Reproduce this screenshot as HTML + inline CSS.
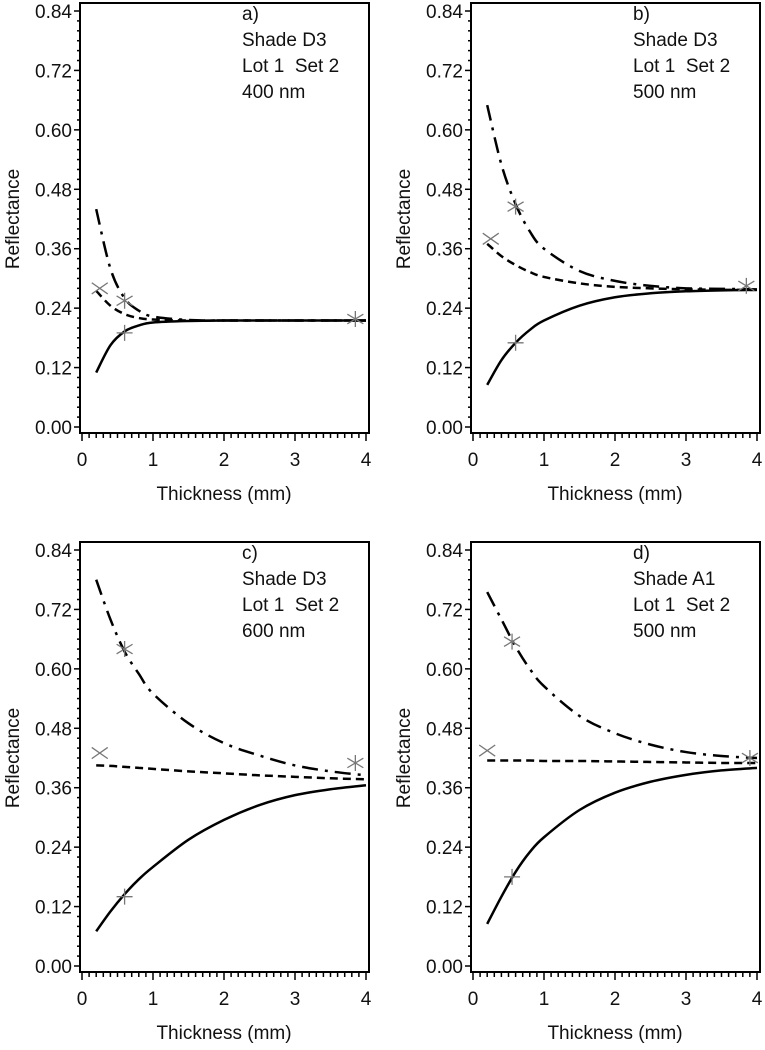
<!DOCTYPE html>
<html><head><meta charset="utf-8"><style>
body{margin:0;background:#fff;}
svg{display:block;font-family:"Liberation Sans",sans-serif;}
text{white-space:pre;}
</style></head><body>
<svg id="fig" width="765" height="1050" viewBox="0 0 765 1050"></svg>
<script>
const xSamples=[0.2,0.4,0.6,0.8,1,1.5,2,2.5,3,3.5,4];
const panelLabels=["a)","b)","c)","d)"];
const panelShades=["Shade D3","Shade D3","Shade D3","Shade A1"];
const panelWaves=["400 nm","500 nm","600 nm","500 nm"];
const solidA=[0.11,0.165,0.193,0.205,0.211,0.214,0.215,0.215,0.215,0.215,0.215];
const dashedA=[0.275,0.245,0.228,0.22,0.217,0.215,0.215,0.215,0.215,0.215,0.215];
const dashdotA=[0.44,0.32,0.26,0.235,0.223,0.216,0.215,0.215,0.215,0.215,0.215];
const solidB=[0.085,0.135,0.17,0.196,0.215,0.245,0.262,0.27,0.274,0.276,0.277];
const dashedB=[0.37,0.345,0.327,0.313,0.303,0.29,0.283,0.28,0.278,0.277,0.277];
const dashdotB=[0.65,0.53,0.45,0.395,0.36,0.315,0.295,0.285,0.28,0.279,0.278];
const solidC=[0.07,0.11,0.145,0.175,0.2,0.255,0.295,0.325,0.345,0.357,0.365];
const dashedC=[0.405,0.404,0.402,0.4,0.398,0.393,0.389,0.385,0.382,0.379,0.377];
const dashdotC=[0.78,0.7,0.635,0.59,0.55,0.49,0.45,0.425,0.405,0.393,0.385];
const solidD=[0.085,0.14,0.19,0.23,0.26,0.315,0.35,0.372,0.386,0.395,0.4];
const dashedD=[0.415,0.415,0.415,0.415,0.414,0.414,0.413,0.412,0.411,0.41,0.41];
const dashdotD=[0.755,0.7,0.645,0.6,0.565,0.505,0.47,0.447,0.432,0.424,0.42];
const markXx=[0.25,0.25,0.25,0.2], markXy=[0.28,0.38,0.43,0.435];
const markStarX=[0.6,0.6,0.6,0.55], markStarY=[0.255,0.445,0.64,0.655];
const markPlusX=[0.6,0.6,0.6,0.55], markPlusY=[0.19,0.17,0.14,0.18];
const markEndX=[3.85,3.85,3.85,3.9], markEndY=[0.218,0.285,0.41,0.42];
const yTicks=[0,0.12,0.24,0.36,0.48,0.6,0.72,0.84];
const xTicks=[0,1,2,3,4];
const solids=[solidA,solidB,solidC,solidD],dasheds=[dashedA,dashedB,dashedC,dashedD],dashdots=[dashdotA,dashdotB,dashdotC,dashdotD];

const NS="http://www.w3.org/2000/svg",svg=document.getElementById('fig');
function mk(t,a,p){const e=document.createElementNS(NS,t);for(const k in a)e.setAttribute(k,a[k]);(p||svg).appendChild(e);return e;}
function smooth(pts){let d=`M${pts[0][0]} ${pts[0][1]}`;
  for(let k=0;k<pts.length-1;k++){const p0=pts[k-1]||pts[k],p1=pts[k],p2=pts[k+1],p3=pts[k+2]||p2;
    const c1=[p1[0]+(p2[0]-p0[0])/6,p1[1]+(p2[1]-p0[1])/6],c2=[p2[0]-(p3[0]-p1[0])/6,p2[1]-(p3[1]-p1[1])/6];
    d+=`C${c1[0]} ${c1[1]} ${c2[0]} ${c2[1]} ${p2[0]} ${p2[1]}`;}
  return d;}
for(let i=0;i<4;i++){
  const dx=(i%2)*391, dy=Math.floor(i/2)*539;
  const g=mk('g',{});
  
  
  const X=v=>dx+82+v*71, Y=v=>dy+427-v*(416/0.84);
  const f=mk('rect',{x:dx+80,y:dy+3,width:289,height:430,fill:'none',stroke:'#000','stroke-width':2},g);
  
  
  for(let v=0;v<=0.8401;v+=0.02){mk('line',{x1:dx+80,x2:dx+(Math.abs((v/0.12)-Math.round(v/0.12))<1e-6?74:77),y1:Y(v),y2:Y(v),stroke:'#000','stroke-width':1.5},g);}
  for(let v=0;v<=4.001;v+=0.1){const maj=Math.abs(v-Math.round(v))<1e-6;mk('line',{x1:X(v),x2:X(v),y1:dy+433,y2:dy+(maj?441:438),stroke:'#000','stroke-width':1.5},g);}
  yTicks.forEach(v=>{const t=mk('text',{x:dx+72,y:Y(v)+7,'text-anchor':'end','font-size':19,fill:'#111'},g);t.textContent=v.toFixed(2);
    
    });
  xTicks.forEach(v=>{const t=mk('text',{x:X(v),y:dy+466,'text-anchor':'middle','font-size':19,fill:'#111'},g);t.textContent=v;
    
    });
  const xt=mk('text',{x:dx+224,y:dy+500,'text-anchor':'middle','font-size':19,fill:'#111'},g);xt.textContent='Thickness (mm)';
  
  
  const yt=mk('text',{x:0,y:0,'text-anchor':'middle','font-size':19,fill:'#111',transform:`translate(${dx+19},${dy+219}) rotate(-90)`},g);yt.textContent='Reflectance';
  
  
  [panelLabels[i],panelShades[i],'Lot 1  Set 2',panelWaves[i]].forEach((s,k)=>{const t=mk('text',{x:dx+242,y:dy+20+k*26,'font-size':19,fill:'#111'},g);t.textContent=s;
    
    });
  const line=(arr,dash,name)=>{const p=mk('path',{d:smooth(xSamples.map((x,k)=>[X(x),Y(arr[k])])),fill:'none',stroke:'#000','stroke-width':2.5,'stroke-dasharray':dash},g);
    
    };
  line(solids[i],'none','solid-curve');line(dasheds[i],'8 5','dashed-curve');line(dashdots[i],'16 7 3 7','dashdot-curve');
  const marker=(x,y,type,name)=>{const cx=X(x),cy=Y(y),r=8;let d='';
    if(type!=='plus')d+=`M${cx-r} ${cy-r*0.7}L${cx+r} ${cy+r*0.7}M${cx-r} ${cy+r*0.7}L${cx+r} ${cy-r*0.7}`;
    if(type!=='x')d+=`M${cx-r} ${cy}L${cx+r} ${cy}M${cx} ${cy-r}L${cx} ${cy+r}`;
    if(type==='star')d=`M${cx-r} ${cy-r*0.6}L${cx+r} ${cy+r*0.6}M${cx-r} ${cy+r*0.6}L${cx+r} ${cy-r*0.6}M${cx} ${cy-r}L${cx} ${cy+r}`;
    const p=mk('path',{d:d,stroke:'#777','stroke-width':1.3,fill:'none'},g);
    
    };
  marker(markXx[i],markXy[i],'x','x-marker');
  marker(markStarX[i],markStarY[i],'star','asterisk-marker');
  marker(markPlusX[i],markPlusY[i],'plus','plus-marker');
  marker(markEndX[i],markEndY[i],'star','end-marker');
}
</script>
</body></html>
